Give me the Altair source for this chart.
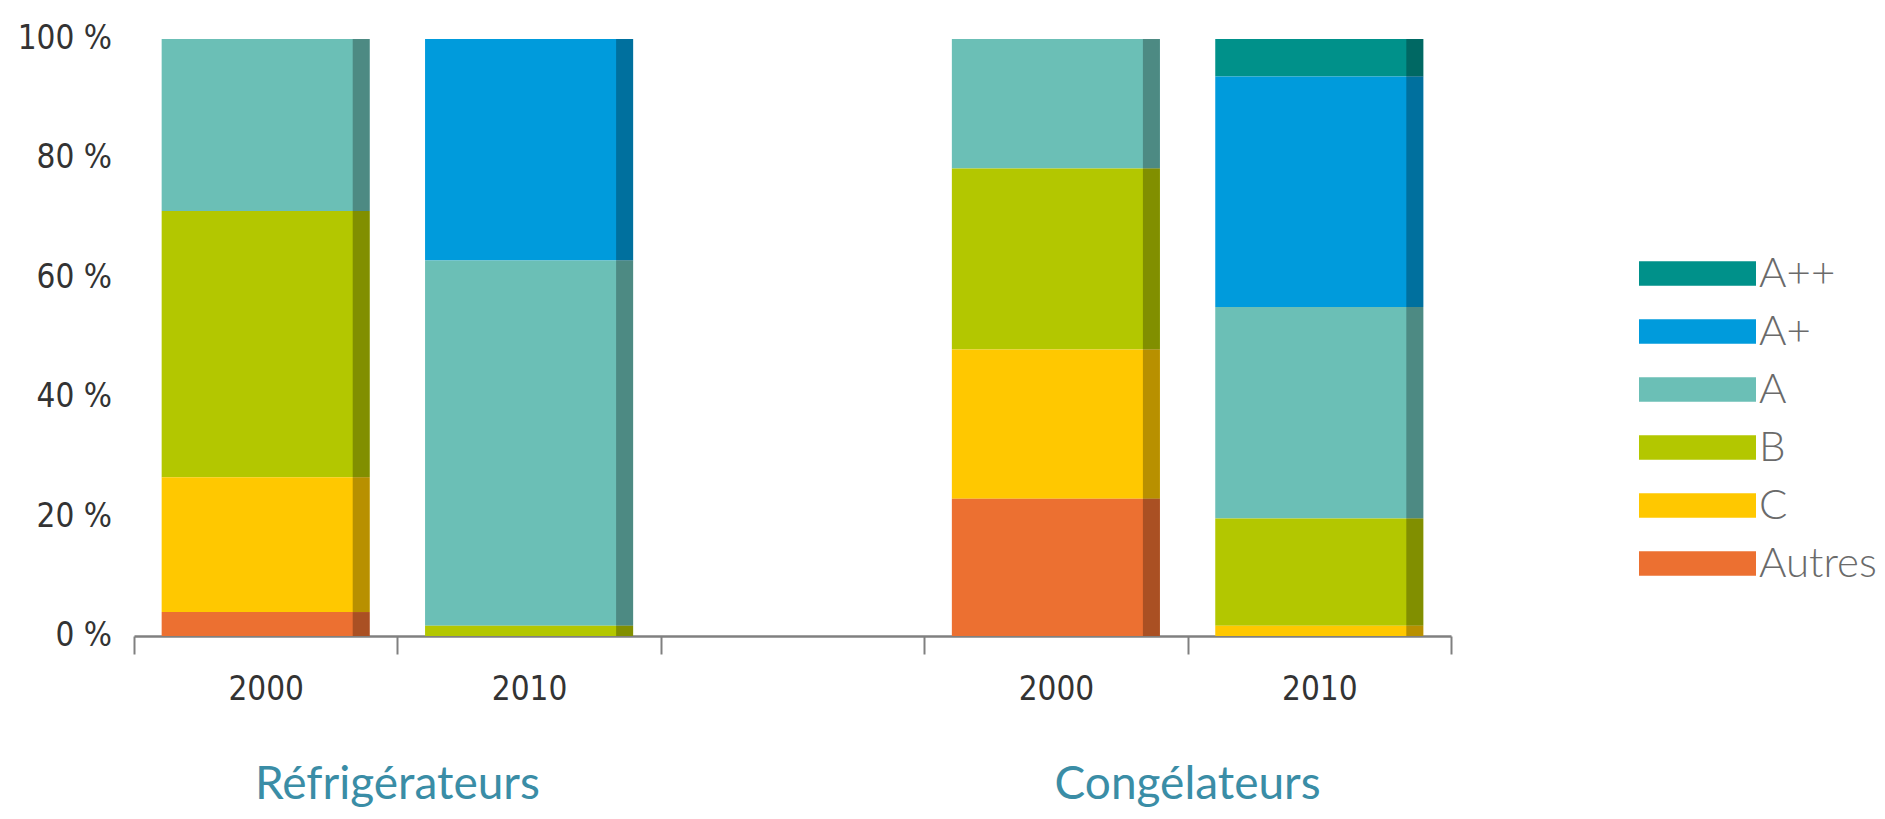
import altair as alt
import pandas as pd

# ---- data ----
classes = ["A++", "A+", "A", "B", "C", "Autres"]
class_colors = ["#00918a", "#009bdc", "#6bbfb6", "#b3c700", "#ffc800", "#ec7031"]

# x slots: year labels (the second group's carry a trailing space to stay distinct)
slots = ["2000", "2010", " ", "2000 ", "2010 "]
group_names = ["Réfrigérateurs", "Congélateurs"]
group_first_slot = ["2000", "2000 "]

# shares (%) per bar, in the order of `classes`
refrig_2000 = [0, 0, 28.8, 44.6, 22.6, 4.0]
refrig_2010 = [0, 37.1, 61.2, 1.7, 0, 0]
congel_2000 = [0, 0, 21.7, 30.3, 25.0, 23.0]
congel_2010 = [6.3, 38.6, 35.4, 18.0, 1.7, 0]

y_ticks = [0, 20, 40, 60, 80, 100]
y_tick_labels = ["0 %", "20 %", "40 %", "60 %", "80 %", "100 %"]

# ---- tables ----
series = {
    "2000": refrig_2000,
    "2010": refrig_2010,
    "2000 ": congel_2000,
    "2010 ": congel_2010,
}
rows = []
for slot, vals in series.items():
    for i, (cls, v) in enumerate(zip(classes, vals)):
        if v > 0:
            rows.append({"slot": slot, "classe": cls, "value": v, "rank": len(classes) - 1 - i})
df = pd.DataFrame(rows)
groups_df = pd.DataFrame({"slot": group_first_slot, "name": group_names})
ylab_df = pd.DataFrame({"v": y_ticks, "label": y_tick_labels})

W, H = 1317, 597
NUM_FONT = "DejaVu Sans Condensed"
TXT_FONT = "Lato"

x_enc = alt.X(
    "slot:N",
    scale=alt.Scale(domain=slots, paddingInner=0, paddingOuter=0),
    axis=alt.Axis(
        title=None, tickBand="extent", labelAngle=0,
        domainColor="#808080", domainWidth=2.5,
        tickColor="#808080", tickWidth=2, tickSize=18, labelPadding=19,
        labelFont=NUM_FONT, labelFontSize=33, labelColor="#333333", grid=False,
    ),
)
y_enc = alt.Y(
    "value:Q", stack="zero",
    scale=alt.Scale(domain=[0, 100], nice=False),
    axis=alt.Axis(
        title=None, values=y_ticks, labels=False, ticks=False,
        domainColor="#909090", domainWidth=2,
        gridColor="#b5b5b5", gridWidth=1.5,
    ),
)

bars = alt.Chart(df).mark_bar(width=alt.RelativeBandSize(0.79)).encode(
    x=x_enc,
    y=y_enc,
    color=alt.Color(
        "classe:N",
        scale=alt.Scale(domain=classes, range=class_colors),
        legend=alt.Legend(
            title=None, orient="none", legendX=1534, legendY=205,
            symbolType="M-2,-0.42L2,-0.42L2,0.42L-2,0.42Z", symbolSize=3422,
            symbolStrokeWidth=0, symbolOpacity=1,
            labelFont=TXT_FONT, labelFontSize=42, labelFontWeight=300,
            labelColor="#6a6a6a", labelOffset=32, rowPadding=7,
        ),
    ),
    order=alt.Order("rank:Q", sort="ascending"),
)

shade = alt.Chart(df).mark_bar(width=17, xOffset=95.5, color="black", opacity=0.28).encode(
    x=alt.X("slot:N"),
    y=alt.Y("value:Q", stack="zero"),
    detail="classe:N",
    order=alt.Order("rank:Q", sort="ascending"),
)

y_labels = alt.Chart(ylab_df).mark_text(
    align="right", baseline="middle", font=NUM_FONT, fontSize=33, color="#333333", dx=-22,
).encode(
    x=alt.value(0),
    y=alt.Y("v:Q", axis=None),
    text="label:N",
)

group_text = alt.Chart(groups_df).mark_text(
    font=TXT_FONT, fontSize=46, color="#3a8da6", baseline="alphabetic", align="center",
    dx=W / 10,
).encode(
    x=alt.X("slot:N"),
    y=alt.value(H + 163),
    text="name:N",
)

chart = alt.layer(bars, shade, y_labels, group_text).properties(
    width=W, height=H,
    padding={"left": 9, "top": 15, "right": 0, "bottom": 0},
).configure_view(strokeWidth=0)

chart.save("out.html", embed_options={"renderer": "svg", "actions": False})
